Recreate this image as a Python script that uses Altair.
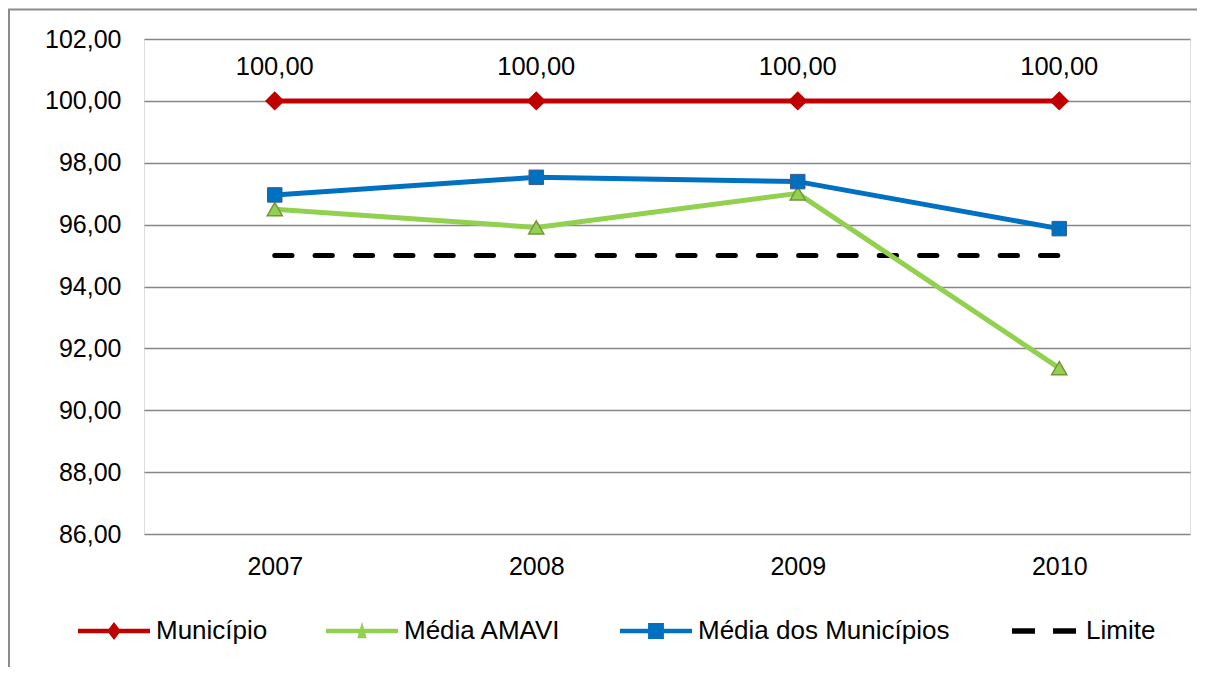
import altair as alt
import pandas as pd

anos = ["2007", "2008", "2009", "2010"]
municipio = [100.00, 100.00, 100.00, 100.00]
media_amavi = [96.50, 95.91, 97.01, 91.36]
media_municipios = [96.96, 97.53, 97.39, 95.87]
limite = [95.00, 95.00, 95.00, 95.00]
series = ["Município", "Média AMAVI", "Média dos Municípios", "Limite"]
y_ticks = [86, 88, 90, 92, 94, 96, 98, 100, 102]

colors = ["#C00000", "#92D050", "#0070C0", "#000000"]
legend_paths = [
    "M-1,-0.065H1V0.065H-1Z M0,-0.25L0.19,0L0,0.25L-0.19,0Z",
    "M-1,-0.065H1V0.065H-1Z M0,-0.26L0.13,0.2L-0.13,0.2Z",
    "M-1,-0.065H1V0.065H-1Z M-0.22,-0.22H0.22V0.22H-0.22Z",
    "M-0.89,-0.075H-0.25V0.075H-0.89Z M0.25,-0.075H0.89V0.075H0.25Z",
]

values = {
    "Município": municipio,
    "Média AMAVI": media_amavi,
    "Média dos Municípios": media_municipios,
    "Limite": limite,
}
rows = []
for s in series:
    for a, v in zip(anos, values[s]):
        rows.append({"Serie": s, "Ano": a, "Valor": v,
                     "Rotulo": f"{v:.2f}".replace(".", ",")})
df = pd.DataFrame(rows)

FONT = "Liberation Sans"

x_enc = alt.X("Ano:O", scale=alt.Scale(type="point", padding=0.5, domain=anos),
              axis=alt.Axis(title=None, labelAngle=0, labelFontSize=25, labelFont=FONT,
                            labelColor="black", ticks=False, domain=False, grid=False,
                            labelPadding=20))
y_enc = alt.Y("Valor:Q", scale=alt.Scale(domain=[86, 102], nice=False, zero=False),
              axis=alt.Axis(title=None, values=y_ticks, labelFontSize=25, labelFont=FONT,
                            labelColor="black", ticks=False, domain=False, grid=True,
                            gridColor="#868686", gridWidth=1.5, labelPadding=23,
                            labelExpr="replace(format(datum.value, '.2f'), '.', ',')"))

leg = alt.Legend(title=None, orient="none", legendX=-66, legendY=556,
                 direction="horizontal", symbolSize=5184, symbolStrokeWidth=0,
                 labelFontSize=26, labelFont=FONT, labelColor="black",
                 columnPadding=58, labelOffset=6, padding=0, symbolOpacity=1,
                 labelLimit=0)

legend_layer = alt.Chart(df).mark_point(filled=True, size=1, opacity=1).encode(
    x=x_enc, y=y_enc,
    color=alt.Color("Serie:N", scale=alt.Scale(domain=series, range=colors), legend=leg),
    shape=alt.Shape("Serie:N", scale=alt.Scale(domain=series, range=legend_paths), legend=leg),
)

def sub(s):
    return df[df["Serie"] == s]

line_lim = alt.Chart(sub("Limite")).mark_line(
    color="#000000", strokeWidth=5, strokeCap="round", strokeDash=[17.3, 23.0]
).encode(x=x_enc, y=y_enc)

line_mun = alt.Chart(sub("Município")).mark_line(
    color="#C00000", strokeWidth=5, strokeJoin="round").encode(x=x_enc, y=y_enc)
line_ama = alt.Chart(sub("Média AMAVI")).mark_line(
    color="#92D050", strokeWidth=5, strokeJoin="round").encode(x=x_enc, y=y_enc)
line_med = alt.Chart(sub("Média dos Municípios")).mark_line(
    color="#0070C0", strokeWidth=5, strokeJoin="round").encode(x=x_enc, y=y_enc)

pt_mun = alt.Chart(sub("Município")).mark_point(
    shape="diamond", filled=True, size=380, color="#C00000", opacity=1
).encode(x=x_enc, y=y_enc)
pt_ama = alt.Chart(sub("Média AMAVI")).mark_point(
    shape="triangle-up", filled=True, size=230, fill="#92D050", stroke="#77933C",
    strokeWidth=1.5, opacity=1
).encode(x=x_enc, y=y_enc)
pt_med = alt.Chart(sub("Média dos Municípios")).mark_point(
    shape="square", filled=True, size=210, fill="#0070C0", stroke="#3A5E8C",
    strokeWidth=1, opacity=1
).encode(x=x_enc, y=y_enc)

labels = alt.Chart(sub("Município")).mark_text(
    fontSize=25.5, font=FONT, color="black", baseline="alphabetic", dy=-26
).encode(x=x_enc, y=y_enc, text="Rotulo:N")

frame_df = pd.DataFrame({"k": [0]})
frame_v = alt.Chart(frame_df).mark_rule(color="#8C8C8C", strokeWidth=2).encode(
    x=alt.value(-135), y=alt.value(-29.5), y2=alt.value(640))
frame_h = alt.Chart(frame_df).mark_rule(color="#8C8C8C", strokeWidth=2).encode(
    x=alt.value(-136), x2=alt.value(1060), y=alt.value(-29.5))

chart = alt.layer(
    legend_layer, line_lim, line_med, line_ama, line_mun,
    pt_mun, pt_ama, pt_med, labels, frame_v, frame_h
).properties(
    width=1046, height=495,
    autosize=alt.AutoSizeParams(type="none"),
    padding={"left": 136, "top": 31, "right": 7, "bottom": 133},
).configure_view(fill="#EEECE1", strokeWidth=0).configure(background="white")

chart.save("out.html", embed_options={"renderer": "svg", "actions": False})
